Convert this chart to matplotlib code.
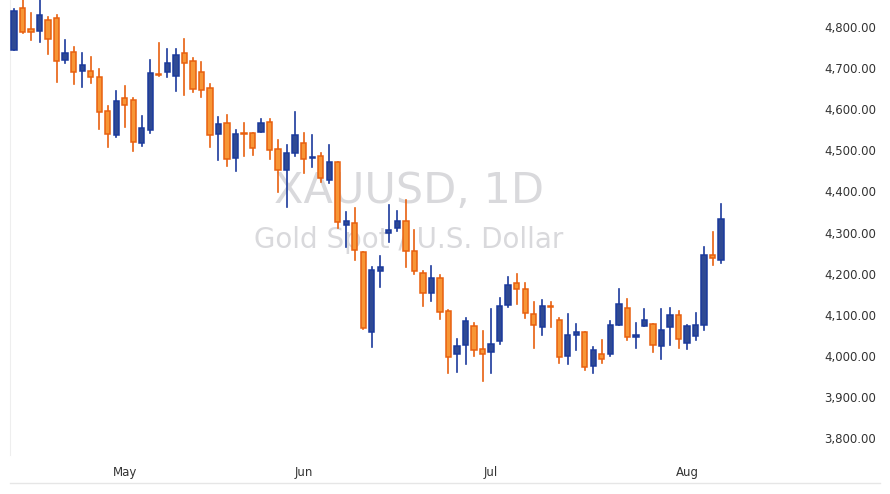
import matplotlib
matplotlib.use("Agg")
import matplotlib.pyplot as plt
from matplotlib.patches import Rectangle

opens = [4744,4847,4795,4791,4817,4822,4720,4739,4693,4693,4679,4596,4538,4628,4623,4518,4550,4686,4691,4681,
         4737,4718,4691,4652,4540,4567,4482,4542,4542,4545,4569,4503,4452,4494,4518,4482,4486,4428,4472,4319,
         4323,4253,4058,4207,4299,4311,4328,4255,4202,4153,4190,4109,4005,4027,4073,4017,4010,4036,4124,4177,
         4163,4102,4070,4119,4087,4000,4051,4058,3975,4005,4005,4075,4117,4046,4073,4078,4024,4070,4100,4031,
         4048,4075,4245,4233]
highs = [4844,4870,4834,4870,4825,4829,4769,4752,4737,4727,4698,4608,4645,4657,4628,4584,4720,4761,4747,4747,
         4771,4725,4715,4662,4581,4586,4550,4567,4542,4576,4576,4525,4513,4594,4542,4538,4494,4513,4472,4350,
         4360,4253,4216,4243,4367,4353,4379,4306,4207,4219,4197,4112,4041,4092,4080,4061,4114,4141,4192,4199,
         4177,4131,4136,4131,4092,4102,4078,4058,4022,4039,4085,4163,4139,4080,4114,4078,4114,4117,4109,4075,
         4104,4265,4301,4370]
lows = [4744,4786,4769,4764,4735,4666,4713,4662,4654,4664,4552,4508,4533,4557,4499,4511,4542,4681,4679,4645,
        4635,4642,4630,4508,4477,4462,4450,4486,4489,4545,4479,4399,4362,4486,4445,4460,4423,4421,4311,4265,
        4233,4066,4022,4168,4277,4304,4216,4199,4121,4134,4090,3958,3961,3980,4000,3939,3958,4029,4119,4126,
        4092,4019,4051,4070,3983,3980,4014,3966,3958,3983,4000,4075,4039,4019,4073,4010,3993,4027,4019,4017,
        4039,4063,4221,4226]
closes = [4839,4788,4788,4829,4771,4718,4737,4691,4708,4679,4594,4540,4620,4611,4521,4555,4688,4684,4713,4732,
          4713,4649,4647,4538,4564,4479,4540,4540,4506,4567,4501,4452,4494,4538,4479,4484,4433,4472,4326,4328,
          4258,4068,4209,4216,4306,4328,4255,4207,4153,4190,4107,3997,4024,4085,4014,4005,4029,4121,4173,4163,
          4104,4075,4121,4118,3997,4051,4058,3973,4014,3993,4075,4126,4046,4051,4087,4027,4063,4100,4041,4073,
          4075,4245,4238,4333]
month_labels = ["May", "Jun", "Jul", "Aug"]
month_idx = [13, 34, 56, 79]
yticks = [3800, 3900, 4000, 4100, 4200, 4300, 4400, 4500, 4600, 4700, 4800]

UP_F, UP_E = "#2f4a94", "#1b3a9c"
DN_F, DN_E = "#f79636", "#e8600f"

fig = plt.figure(figsize=(8.9, 4.94), dpi=100)
ax = fig.add_axes([10/890, 1-455/494, 798/890, 455/494])
w = 0.62
for i, (o, h, l, c) in enumerate(zip(opens, highs, lows, closes)):
    up = c >= o
    fc, ec = (UP_F, UP_E) if up else (DN_F, DN_E)
    ax.plot([i, i], [l, h], color=ec, lw=1.2, zorder=2)
    lo, hi = min(o, c), max(o, c)
    ax.add_patch(Rectangle((i - w/2, lo), w, max(hi - lo, 2.5), facecolor=fc, edgecolor=ec, lw=1.1, zorder=3))

ax.set_xlim(-0.47, 93.2)
ax.set_ylim(3758.7, 4865.7)
for s in ax.spines.values():
    s.set_visible(False)
ax.spines['left'].set_visible(True)
ax.spines['left'].set_color("#eeeeee")
ax.yaxis.tick_right()
ax.set_yticks(yticks)
ax.set_yticklabels([f"{v:,.2f}" for v in yticks], fontsize=8.5, color="#333333")
ax.tick_params(axis='y', length=0, pad=12)
ax.set_xticks(month_idx)
ax.set_xticklabels(month_labels, fontsize=8.5, color="#333333")
ax.tick_params(axis='x', length=0, pad=8)

ax.text(0.50, 0.58, "XAUUSD, 1D", transform=ax.transAxes, ha="center", va="center",
        fontsize=31, color="#d9d9dc", zorder=1)
ax.text(0.50, 0.472, "Gold Spot / U.S. Dollar", transform=ax.transAxes, ha="center", va="center",
        fontsize=20, color="#d9d9dc", zorder=1)

fig.add_artist(plt.Line2D([10/890, 880/890], [1-483/494, 1-483/494], color="#e6e6e6", lw=1))
fig.savefig("out.png", dpi=100)
